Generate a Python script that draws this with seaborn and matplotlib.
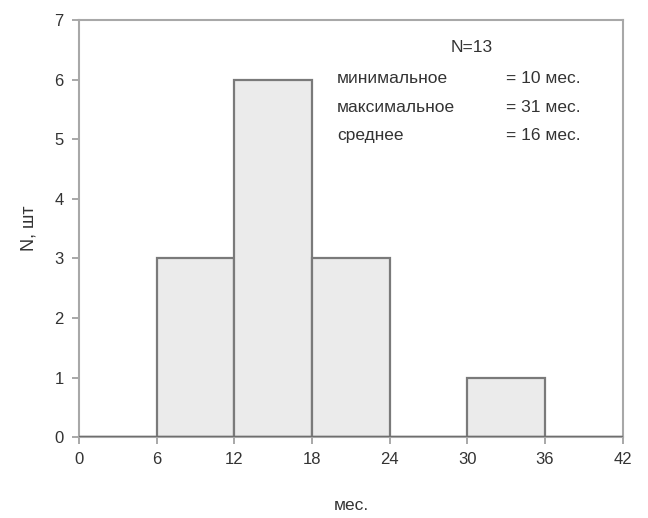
import matplotlib
matplotlib.use("Agg")
import matplotlib.pyplot as plt
import numpy as np
import seaborn as sns

# histogram of durations, months
BIN_EDGES = [0, 6, 12, 18, 24, 30, 36, 42]
BIN_CENTERS = [3, 9, 15, 21, 27, 33, 39]
COUNTS = [0, 3, 6, 3, 0, 1, 0]

X_TICKS = [0, 6, 12, 18, 24, 30, 36, 42]
Y_TICKS = [0, 1, 2, 3, 4, 5, 6, 7]

STAT_NAMES = ["минимальное", "максимальное", "среднее"]
STAT_VALUES = ["= 10 мес.", "= 31 мес.", "= 16 мес."]
N_TOTAL = 13


def main() -> None:
    sns.set_theme(style="white")
    plt.rcParams["font.family"] = ["Liberation Sans", "DejaVu Sans"]

    fig = plt.figure(figsize=(6.48, 5.18), dpi=100)
    ax = fig.add_axes([0.122, 0.156, 0.839, 0.805])

    sns.histplot(
        x=BIN_CENTERS,
        weights=COUNTS,
        bins=BIN_EDGES,
        color="#ebebeb",
        alpha=1.0,
        edgecolor="#7a7a7a",
        linewidth=1.6,
        ax=ax,
    )
    ax.axhline(0, color="#6e6e6e", linewidth=2.5, zorder=5)

    ax.set_xlim(0, 42)
    ax.set_ylim(0, 7)
    ax.set_xticks(X_TICKS)
    ax.set_yticks(Y_TICKS)
    ax.tick_params(axis="both", direction="out", length=5, width=1.2,
                   color="#9a9a9a", labelsize=12, labelcolor="#333333", pad=6,
                   bottom=True, left=True)
    for side in ax.spines.values():
        side.set_color("#a8a8a8")
        side.set_linewidth(1.5)

    ax.set_xlabel("мес.", fontsize=12.5, color="#333333", labelpad=22)
    ax.set_ylabel("N, шт", fontsize=13, color="#333333", labelpad=12)

    txt = dict(transform=ax.transAxes, fontsize=12.5, color="#333333", va="center")
    ax.text(0.722, 0.935, f"N={N_TOTAL}", ha="center", **txt)
    for i, (name, val) in enumerate(zip(STAT_NAMES, STAT_VALUES)):
        y = 0.859 - i * 0.068
        ax.text(0.474, y, name, ha="left", **txt)
        ax.text(0.785, y, val, ha="left", **txt)

    fig.savefig("out.png", dpi=100)
    plt.close(fig)


if __name__ == "__main__":
    main()
